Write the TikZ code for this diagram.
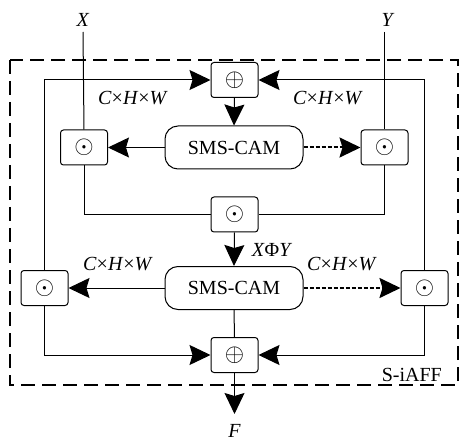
\documentclass[tikz,border=0pt]{standalone}
\usepackage{amsmath,amssymb}
\usepackage{fontspec}
\setmainfont{Liberation Serif}
\usetikzlibrary{arrows.meta}

\begin{document}
\begin{tikzpicture}[x=1pt,y=-1pt,
  opbox/.style={draw,line width=1pt,rounded corners=3pt,minimum width=47pt,minimum height=35pt,inner sep=0pt},
  cam/.style={draw,line width=1pt,rounded corners=13pt,minimum width=138pt,minimum height=43pt,inner sep=0pt,font=\fontsize{20}{24}\selectfont},
  lab/.style={inner sep=0pt,font=\fontsize{20}{24}\selectfont},
  conn/.style={line width=1pt},
  arr/.style={conn,-{Stealth[length=21pt,width=20pt,inset=3pt]}},
  dotarr/.style={arr,dash pattern=on 4pt off 2pt,line width=2pt}]
  \useasboundingbox (0,0) rectangle (461,441);
  % outer S-iAFF frame
  \draw[line width=2pt,dash pattern=on 14pt off 7pt] (10,60) rectangle (458,385);
  \node[lab,anchor=base east] at (442,381) {S-iAFF};
  % first attention stage
  \node[opbox] (plusT) at (234.5,80) {\fontsize{27}{30}\selectfont$\oplus$};
  \node[cam] (camT) at (234,147.5) {SMS-CAM};
  \node[opbox] (odTL) at (84,147.5) {\fontsize{25}{28}\selectfont$\odot$};
  \node[opbox] (odTR) at (384.5,147.5) {\fontsize{25}{28}\selectfont$\odot$};
  \node[opbox] (odM) at (234.5,214.5) {\fontsize{25}{28}\selectfont$\odot$};
  % second attention stage
  \node[cam] (camB) at (234,288) {SMS-CAM};
  \node[opbox] (odBL) at (44.5,288) {\fontsize{25}{28}\selectfont$\odot$};
  \node[opbox] (odBR) at (424.5,288) {\fontsize{25}{28}\selectfont$\odot$};
  \node[opbox] (plusB) at (234.5,355) {\fontsize{27}{30}\selectfont$\oplus$};
  % inputs and output
  \coordinate (inX) at (83,32);
  \coordinate (inY) at (384.5,32);
  \coordinate (outF) at (234.5,414);
  \node[lab,anchor=base] at (83,27) {\textit{X}};
  \node[lab,anchor=base] at (388,27) {\textit{Y}};
  \node[lab,anchor=base,text depth=0pt] at (234.5,437) {\textit{F}};
  \draw[conn] (inX) -- (odTL.north);
  \draw[conn] (inY) -- (odTR.north);
  \draw[arr] (odBL.north) |- (plusT.west);
  \draw[arr] (odBR.north) |- (plusT.east);
  \draw[arr] (plusT.south) -- (camT.north);
  \draw[arr] (camT.west) -- (odTL.east);
  \draw[dotarr] (camT.east) -- (odTR.west);
  \draw[conn] (odTL.south) |- (odM.west);
  \draw[conn] (odTR.south) |- (odM.east);
  \draw[arr] (odM.south) -- (camB.north);
  \draw[arr] (camB.west) -- (odBL.east);
  \draw[dotarr] (camB.east) -- (odBR.west);
  \draw[conn] (camB.south) -- (plusB.north);
  \draw[arr] (odBL.south) |- (plusB.west);
  \draw[arr] (odBR.south) |- (plusB.east);
  \draw[arr] (plusB.south) -- (outF);
  % size labels
  \node[lab] at (133,98) {\textit{C}×\textit{H}×\textit{W}};
  \node[lab] at (328,98) {\textit{C}×\textit{H}×\textit{W}};
  \node[lab] at (118,264) {\textit{C}×\textit{H}×\textit{W}};
  \node[lab] at (342,264) {\textit{C}×\textit{H}×\textit{W}};
  \node[lab] at (272,250) {\textit{X}Φ\textit{Y}};
\end{tikzpicture}
\end{document}
